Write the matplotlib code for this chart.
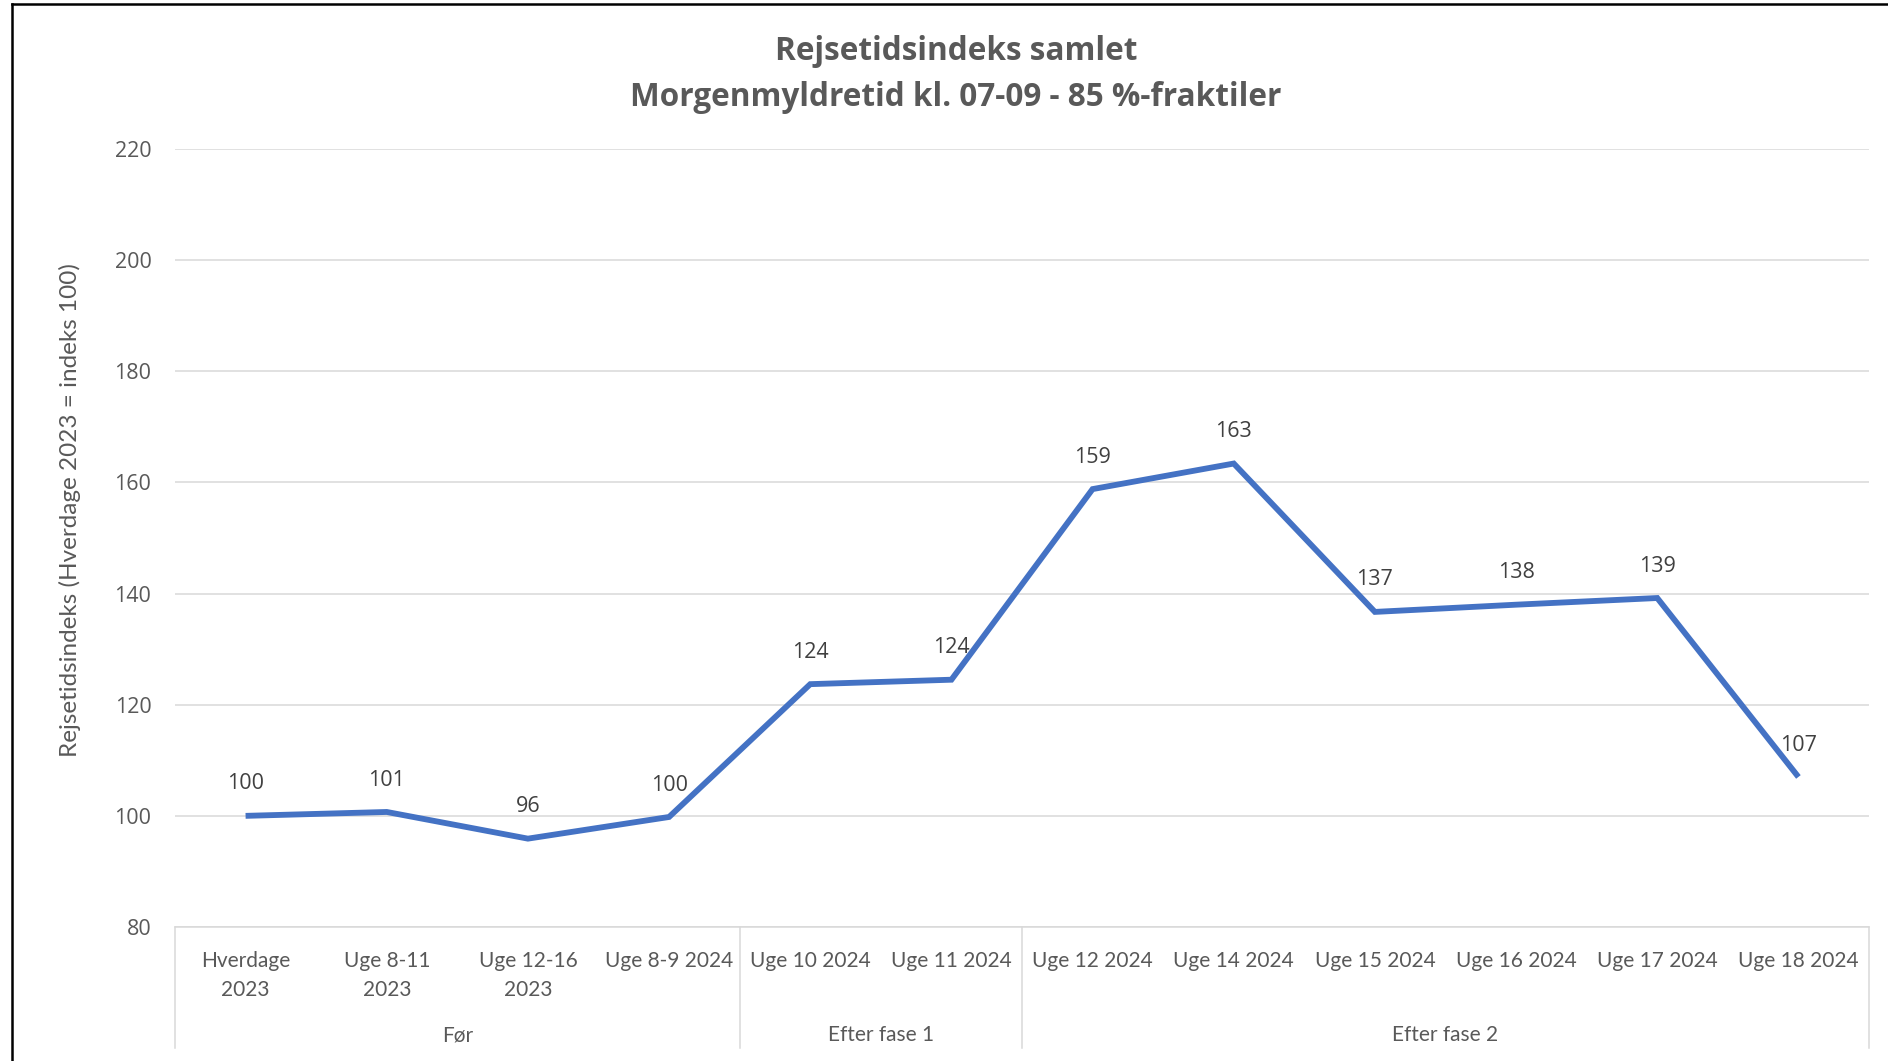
import matplotlib
matplotlib.use("Agg")
import matplotlib.pyplot as plt
from matplotlib.lines import Line2D

# ---- data ----
categories = ["Hverdage\n2023", "Uge 8-11\n2023", "Uge 12-16\n2023", "Uge 8-9 2024",
              "Uge 10 2024", "Uge 11 2024", "Uge 12 2024", "Uge 14 2024",
              "Uge 15 2024", "Uge 16 2024", "Uge 17 2024", "Uge 18 2024"]
values = [100.0, 100.7, 95.9, 99.8, 123.7, 124.5, 158.8, 163.4, 136.7, 138.0, 139.2, 107.0]
value_labels = ["100", "101", "96", "100", "124", "124", "159", "163", "137", "138", "139", "107"]
groups = ["Før", "Efter fase 1", "Efter fase 2"]
group_sizes = [4, 2, 6]
yticks = [80, 100, 120, 140, 160, 180, 200, 220]
title1 = "Rejsetidsindeks samlet"
title2 = "Morgenmyldretid kl. 07-09 - 85 %-fraktiler"
ylabel = "Rejsetidsindeks (Hverdage 2023 = indeks 100)"

W, H = 1888, 1061
TXT = "#595959"
LBL = "#404040"
GRID = "#D9D9D9"
LINE = "#4472C4"
NUM_FONT = ["Open Sans", "DejaVu Sans"]
CAT_FONT = ["Lato", "DejaVu Sans"]

fig = plt.figure(figsize=(W / 100, H / 100), dpi=100)
fig.patch.set_facecolor("white")

left, right, top, bottom = 175, 1869, 149, 927
ax = fig.add_axes([left / W, (H - bottom) / H, (right - left) / W, (bottom - top) / H])

x = list(range(len(categories)))
ax.plot(x, values, color=LINE, lw=4.2, solid_joinstyle="miter", solid_capstyle="butt", zorder=3)

for xi, v, lab in zip(x, values, value_labels):
    ax.annotate(lab, (xi, v), xytext=(0, 23), textcoords="offset points",
                ha="center", va="center", fontsize=15.5, color=LBL, family=NUM_FONT)

ax.set_xlim(-0.5, len(categories) - 0.5)
ax.set_ylim(80, 220)
ax.set_yticks(yticks)
ax.set_yticklabels([str(t) for t in yticks], family=NUM_FONT, fontsize=15.5, color=TXT)
ax.tick_params(axis="y", length=0, pad=17)
ax.set_xticks([])
ax.grid(axis="y", color=GRID, lw=1.1)
ax.set_axisbelow(True)
for s in ["left", "right", "top"]:
    ax.spines[s].set_visible(False)
ax.spines["bottom"].set_color(GRID)
ax.spines["bottom"].set_linewidth(1.1)

ph = bottom - top
xt = ax.get_xaxis_transform()
# category labels
for xi, lab in zip(x, categories):
    lines = lab.split("\n")
    for k, ln in enumerate(lines):
        ypix = 961 + k * 29
        ax.text(xi, -(ypix - bottom) / ph, ln, transform=xt, ha="center", va="center",
                fontsize=15, color=TXT, family=CAT_FONT)

# group labels and separators
start = 0
seps = [-0.5]
for g, n in zip(groups, group_sizes):
    c = start + (n - 1) / 2
    ax.text(c, -(1035 - bottom) / ph, g, transform=xt, ha="center", va="center",
            fontsize=15, color=TXT, family=CAT_FONT)
    start += n
    seps.append(start - 0.5)
for s in seps:
    ax.plot([s, s], [0, -(1048 - bottom) / ph], transform=xt, color=GRID, lw=1.1, clip_on=False)

# titles
fig.text(956 / W, 1 - 52 / H, title1, ha="center", va="center", fontsize=22.7,
         fontweight="bold", color=TXT, family=NUM_FONT)
fig.text(956 / W, 1 - 98 / H, title2, ha="center", va="center", fontsize=22.7,
         fontweight="bold", color=TXT, family=NUM_FONT)

# y axis label
fig.text(70 / W, 1 - 510 / H, ylabel, rotation=90, ha="center", va="center",
         fontsize=17.5, color=TXT, family=CAT_FONT)

# black frame (left and top)
fig.add_artist(Line2D([12 / W, 12 / W], [0, 1 - 4 / H], color="black", lw=1.8, transform=fig.transFigure))
fig.add_artist(Line2D([12 / W, 1], [1 - 4 / H, 1 - 4 / H], color="black", lw=1.8, transform=fig.transFigure))

fig.savefig("out.png", dpi=100)
